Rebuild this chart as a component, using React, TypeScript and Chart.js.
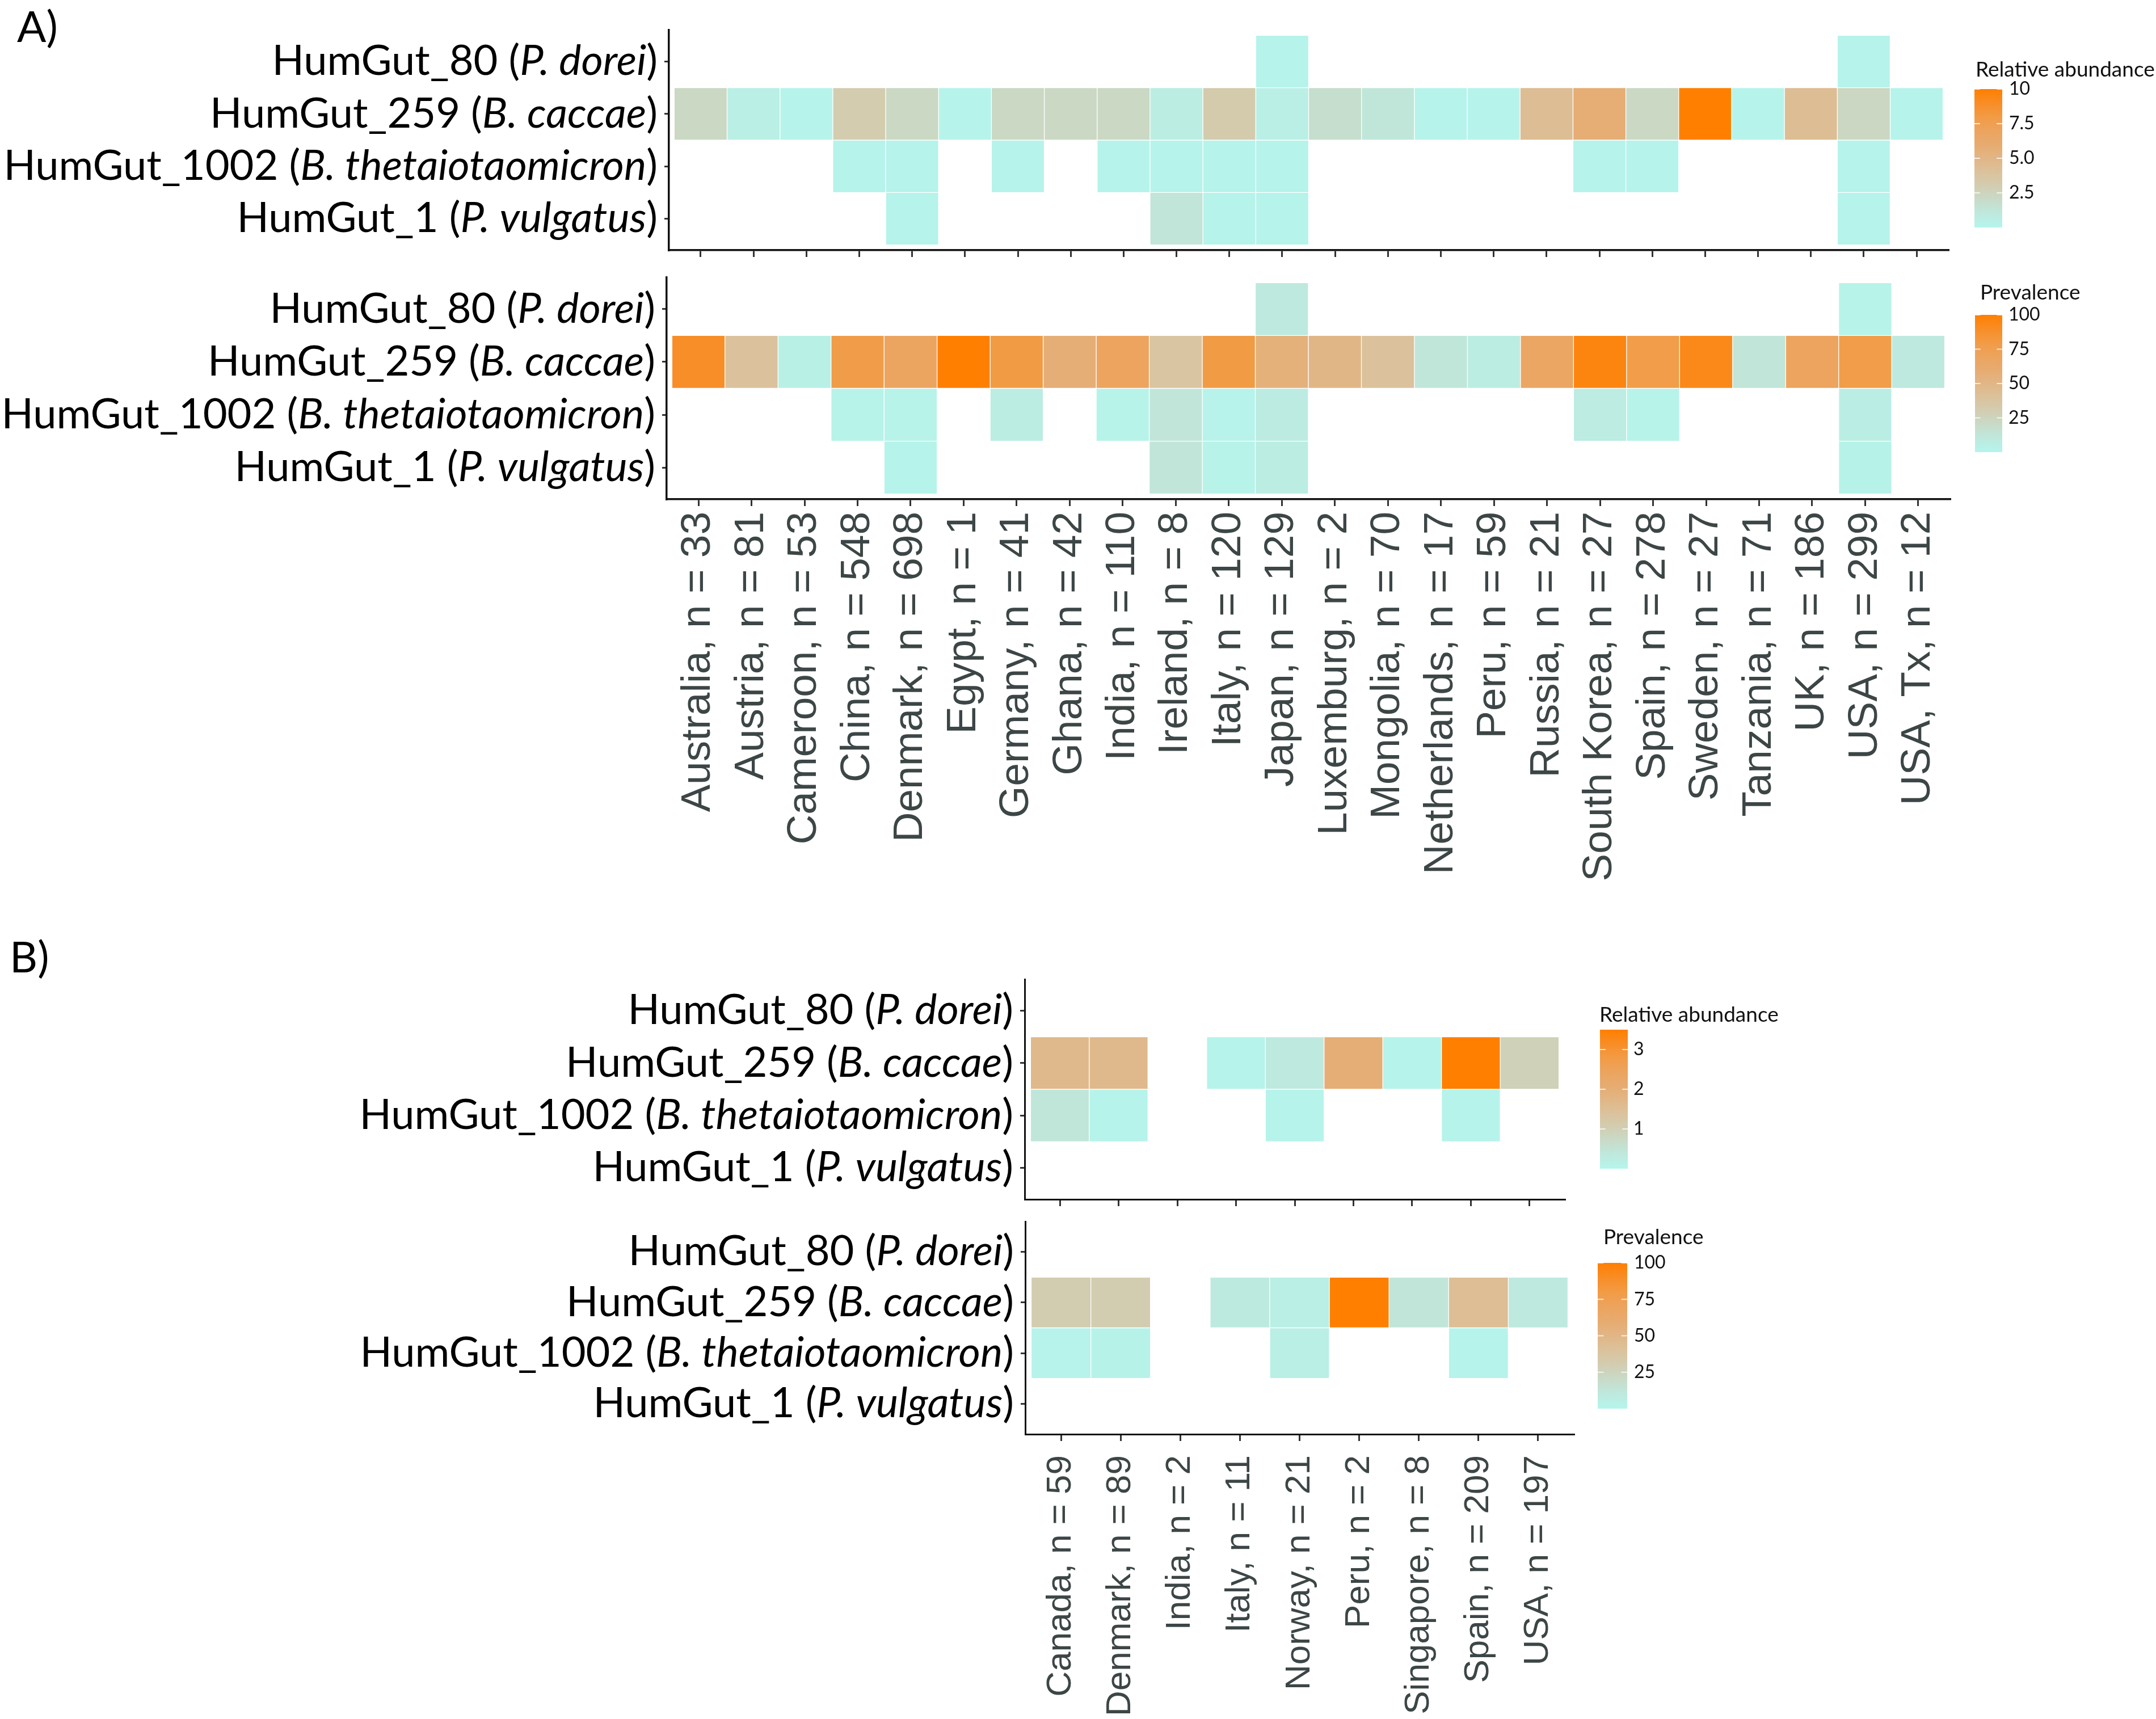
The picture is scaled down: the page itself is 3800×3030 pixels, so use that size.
import React, { useEffect, useRef } from "react";
import { Chart, registerables } from "chart.js";

Chart.register(...registerables);

// ---------------- data ----------------
const rowIds = ["HumGut_80", "HumGut_259", "HumGut_1002", "HumGut_1"];
const rowSpecies = ["P. dorei", "B. caccae", "B. thetaiotaomicron", "P. vulgatus"];

const countriesA = [
  "Australia, n = 33", "Austria, n = 81", "Cameroon, n = 53", "China, n = 548",
  "Denmark, n = 698", "Egypt, n = 1", "Germany, n = 41", "Ghana, n = 42",
  "India, n = 110", "Ireland, n = 8", "Italy, n = 120", "Japan, n = 129",
  "Luxemburg, n = 2", "Mongolia, n = 70", "Netherlands, n = 17", "Peru, n = 59",
  "Russia, n = 21", "South Korea, n = 27", "Spain, n = 278", "Sweden, n = 27",
  "Tanzania, n = 71", "UK, n = 186", "USA, n = 299", "USA, Tx, n = 12",
];

// Panel A – relative abundance
const abundA_HG80 = [null, null, null, null, null, null, null, null, null, null, null, 0.15, null, null, null, null, null, null, null, null, null, null, 0.15, null];
const abundA_HG259 = [2.2, 0.5, 0.1, 3.1, 2.2, 0.1, 2.2, 2.2, 2.2, 0.7, 3.2, 0.5, 1.8, 1.2, 0.15, 0.1, 4.4, 5.8, 2.2, 10, 0.1, 4.4, 2.3, 0.15];
const abundA_HG1002 = [null, null, null, 0.15, 0.15, null, 0.15, null, 0.15, 0.15, 0.15, 0.15, null, null, null, null, null, 0.15, 0.15, null, null, null, 0.15, null];
const abundA_HG1 = [null, null, null, null, 0.15, null, null, null, null, 1.3, 0.15, 0.15, null, null, null, null, null, null, null, null, null, null, 0.15, null];

// Panel A – prevalence
const prevA_HG80 = [null, null, null, null, null, null, null, null, null, null, null, 10, null, null, null, null, null, null, null, null, null, null, 2, null];
const prevA_HG259 = [89, 40, 4, 79, 69, 100, 80, 57, 70, 37.5, 80, 55, 50, 40, 12, 7, 67, 96, 78, 93, 13, 70, 78, 10];
const prevA_HG1002 = [null, null, null, 2, 2, null, 7, null, 2, 12.5, 1.7, 8, null, null, null, null, null, 7.4, 2, null, null, null, 6, null];
const prevA_HG1 = [null, null, null, null, 1.5, null, null, null, null, 12.5, 2, 7, null, null, null, null, null, null, null, null, null, null, 2.5, null];

const countriesB = [
  "Canada, n = 59", "Denmark, n = 89", "India, n = 2", "Italy, n = 11", "Norway, n = 21",
  "Peru, n = 2", "Singapore, n = 8", "Spain, n = 209", "USA, n = 197",
];

// Panel B – relative abundance
const abundB_HG80 = [null, null, null, null, null, null, null, null, null];
const abundB_HG259 = [1.65, 1.65, null, 0.05, 0.35, 2.0, 0.05, 3.5, 0.95];
const abundB_HG1002 = [0.42, 0.05, null, null, 0.05, null, null, 0.05, null];
const abundB_HG1 = [null, null, null, null, null, null, null, null, null];

// Panel B – prevalence
const prevB_HG80 = [null, null, null, null, null, null, null, null, null];
const prevB_HG259 = [30.5, 30.3, null, 9.1, 4.8, 100, 12.5, 43, 10];
const prevB_HG1002 = [1.7, 2.2, null, null, 4.8, null, null, 1.4, null];
const prevB_HG1 = [null, null, null, null, null, null, null, null, null];

// colour-bar ticks
const abundTicksA = [2.5, 5, 7.5, 10];
const abundTickLabelsA = ["2.5", "5.0", "7.5", "10"];
const abundMaxA = 10;
const prevTicks = [25, 50, 75, 100];
const prevTickLabels = ["25", "50", "75", "100"];
const prevMax = 100;
const abundTicksB = [1, 2, 3];
const abundTickLabelsB = ["1", "2", "3"];
const abundMaxB = 3.5;

// ---------------- styling ----------------
const PAGE_W = 3800;
const PAGE_H = 3030;
const LABEL_FONT = "Lato, 'Open Sans', sans-serif";
const XTICK_FONT = "'Liberation Sans', Arial, sans-serif";
const XTICK_COLOR = "#3d4646";
const ROW_LABEL_SIZE = 74;

const gradientStops: [number, string][] = [
  [0.0, "#b5f5ec"],
  [0.1, "#bee9de"],
  [0.2, "#c8dbc9"],
  [0.3, "#d2cdb1"],
  [0.4, "#dbc29c"],
  [0.5, "#e1b686"],
  [0.6, "#e7ab70"],
  [0.7, "#eca45e"],
  [0.8, "#f29b45"],
  [0.9, "#f88d25"],
  [1.0, "#ff7f00"],
];

function hexToRgb(h: string) {
  const n = parseInt(h.slice(1), 16);
  return [(n >> 16) & 255, (n >> 8) & 255, n & 255];
}

function colorFor(v: number, max: number) {
  const t = Math.max(0, Math.min(1, v / max));
  for (let i = 0; i < gradientStops.length - 1; i++) {
    const [t0, c0] = gradientStops[i];
    const [t1, c1] = gradientStops[i + 1];
    if (t >= t0 && t <= t1) {
      const f = (t - t0) / (t1 - t0);
      const a = hexToRgb(c0);
      const b = hexToRgb(c1);
      const r = a.map((x, k) => Math.round(x + (b[k] - x) * f));
      return `rgb(${r[0]},${r[1]},${r[2]})`;
    }
  }
  return gradientStops[gradientStops.length - 1][1];
}

type LegendSpec = {
  title: string;
  ticks: number[];
  tickLabels: string[];
  barLeft: number;
  barRight: number;
  barTop: number;
  barBottom: number;
  titleX: number;
  titleBaseline: number;
  labelX: number;
};

type PanelSpec = {
  top: number;
  height: number;
  plot: { left: number; right: number; top: number; bottom: number };
  categories: string[];
  rows: (number | null)[][];
  max: number;
  legend: LegendSpec;
  showXLabels: boolean;
  xFontSize: number;
  xPad: number;
  axisWidth: number;
  panelLabel?: { text: string; x: number; baseline: number; size: number };
};

function buildChart(canvas: HTMLCanvasElement, p: PanelSpec) {
  const nCat = p.categories.length;
  const datasets = p.rows.map((vals, k) => {
    const rowVal = 3 - k;
    const data: any[] = [];
    const colors: string[] = [];
    vals.forEach((v, i) => {
      if (v !== null && v !== undefined) {
        data.push({ x: i, y: [rowVal - 0.5, rowVal + 0.5] });
        colors.push(colorFor(v, p.max));
      }
    });
    return {
      label: rowIds[k],
      data,
      backgroundColor: colors,
      borderColor: "#ffffff",
      borderWidth: 1,
      borderSkipped: false,
      grouped: false,
      barPercentage: 1,
      categoryPercentage: 1,
    };
  });

  const overlay = {
    id: "overlay",
    afterDraw(chart: any) {
      const ctx = chart.ctx as CanvasRenderingContext2D;
      const yScale = chart.scales.y;
      const left = chart.chartArea.left;
      ctx.save();
      // row labels with italic species names
      ctx.fillStyle = "#000000";
      ctx.textBaseline = "middle";
      ctx.textAlign = "left";
      const fs = ROW_LABEL_SIZE;
      rowIds.forEach((id, k) => {
        const py = yScale.getPixelForValue(3 - k);
        const parts = [
          { t: id + " (", it: false },
          { t: rowSpecies[k], it: true },
          { t: ")", it: false },
        ];
        const widths = parts.map((q) => {
          ctx.font = `${q.it ? "italic " : ""}${fs}px ${LABEL_FONT}`;
          return ctx.measureText(q.t).width;
        });
        const total = widths.reduce((a, b) => a + b, 0);
        let x = left - 20 - total;
        parts.forEach((q, i) => {
          ctx.font = `${q.it ? "italic " : ""}${fs}px ${LABEL_FONT}`;
          ctx.fillText(q.t, x, py);
          x += widths[i];
        });
      });

      // colour bar legend
      const L = p.legend;
      const off = p.top;
      const yT = L.barTop - off;
      const yB = L.barBottom - off;
      const grad = ctx.createLinearGradient(0, yB, 0, yT);
      gradientStops.forEach(([t, c]) => grad.addColorStop(t, c));
      ctx.fillStyle = grad;
      ctx.fillRect(L.barLeft, yT, L.barRight - L.barLeft, yB - yT);
      const tl = (L.barRight - L.barLeft) / 5;
      L.ticks.forEach((v, i) => {
        const py = yB - (v / p.max) * (yB - yT);
        ctx.strokeStyle = "rgba(255,255,255,0.75)";
        ctx.lineWidth = 2;
        ctx.beginPath();
        ctx.moveTo(L.barLeft, py);
        ctx.lineTo(L.barLeft + tl, py);
        ctx.moveTo(L.barRight - tl, py);
        ctx.lineTo(L.barRight, py);
        ctx.stroke();
        ctx.fillStyle = "#111111";
        ctx.font = `32px ${LABEL_FONT}`;
        ctx.textAlign = "left";
        ctx.textBaseline = "middle";
        ctx.fillText(L.tickLabels[i], L.labelX, py);
      });
      ctx.fillStyle = "#111111";
      ctx.font = `37px ${LABEL_FONT}`;
      ctx.textAlign = "left";
      ctx.textBaseline = "alphabetic";
      ctx.fillText(L.title, L.titleX, L.titleBaseline - off);

      if (p.panelLabel) {
        ctx.font = `${p.panelLabel.size}px ${LABEL_FONT}`;
        ctx.fillStyle = "#000000";
        ctx.fillText(p.panelLabel.text, p.panelLabel.x, p.panelLabel.baseline - off);
      }
      ctx.restore();
    },
  };

  const plotBottomRel = p.plot.bottom - p.top;

  return new Chart(canvas, {
    type: "bar",
    data: { datasets } as any,
    options: {
      animation: false,
      responsive: false,
      devicePixelRatio: 1,
      events: [],
      layout: {
        autoPadding: false,
        padding: { left: 0, right: PAGE_W - p.plot.right, top: p.plot.top - p.top, bottom: 0 },
      },
      plugins: {
        legend: { display: false },
        tooltip: { enabled: false },
        title: { display: false },
      },
      scales: {
        x: {
          type: "linear",
          min: -0.6,
          max: nCat - 1 + 0.6,
          offset: false,
          afterBuildTicks: (s: any) => {
            s.ticks = p.categories.map((_, i) => ({ value: i }));
          },
          afterFit: (s: any) => {
            s.height = p.height - plotBottomRel;
          },
          ticks: {
            display: p.showXLabels,
            autoSkip: false,
            minRotation: 90,
            maxRotation: 90,
            padding: p.xPad,
            color: XTICK_COLOR,
            font: { family: XTICK_FONT, size: p.xFontSize },
            callback: (v: any) => p.categories[v as number] ?? "",
          },
          grid: {
            display: true,
            drawOnChartArea: false,
            drawTicks: true,
            tickLength: 12,
            color: "#333333",
            lineWidth: 3,
            offset: false,
          },
          border: { display: true, color: "#111111", width: p.axisWidth },
        },
        y: {
          type: "linear",
          min: -0.6,
          max: 3.6,
          afterBuildTicks: (s: any) => {
            s.ticks = [0, 1, 2, 3].map((v) => ({ value: v }));
          },
          afterFit: (s: any) => {
            s.width = p.plot.left;
          },
          ticks: { display: false },
          grid: {
            display: true,
            drawOnChartArea: false,
            drawTicks: true,
            tickLength: 8,
            color: "#333333",
            lineWidth: 3,
            offset: false,
          },
          border: { display: true, color: "#111111", width: p.axisWidth },
        },
      },
    } as any,
    plugins: [overlay],
  });
}

function HeatPanel({ spec }: { spec: PanelSpec }) {
  const ref = useRef<HTMLCanvasElement>(null);
  useEffect(() => {
    const chart = buildChart(ref.current as HTMLCanvasElement, spec);
    return () => chart.destroy();
  }, []);
  return (
    <canvas
      ref={ref}
      width={PAGE_W}
      height={spec.height}
      style={{ position: "absolute", left: 0, top: spec.top, width: PAGE_W, height: spec.height, display: "block" }}
    />
  );
}

const panels: PanelSpec[] = [
  {
    top: 0,
    height: 470,
    plot: { left: 1179, right: 3434, top: 53, bottom: 441 },
    categories: countriesA,
    rows: [abundA_HG80, abundA_HG259, abundA_HG1002, abundA_HG1],
    max: abundMaxA,
    legend: {
      title: "Relative abundance",
      ticks: abundTicksA,
      tickLabels: abundTickLabelsA,
      barLeft: 3480, barRight: 3529, barTop: 157, barBottom: 401,
      titleX: 3482, titleBaseline: 135, labelX: 3541,
    },
    showXLabels: false,
    xFontSize: 73,
    xPad: 10,
    axisWidth: 3.5,
    panelLabel: { text: "A)", x: 30, baseline: 74, size: 76 },
  },
  {
    top: 470,
    height: 1250,
    plot: { left: 1175, right: 3437, top: 489, bottom: 880 },
    categories: countriesA,
    rows: [prevA_HG80, prevA_HG259, prevA_HG1002, prevA_HG1],
    max: prevMax,
    legend: {
      title: "Prevalence",
      ticks: prevTicks,
      tickLabels: prevTickLabels,
      barLeft: 3481, barRight: 3529, barTop: 555, barBottom: 797,
      titleX: 3490, titleBaseline: 528, labelX: 3540,
    },
    showXLabels: true,
    xFontSize: 73,
    xPad: 10,
    axisWidth: 3.5,
  },
  {
    top: 1620,
    height: 520,
    plot: { left: 1806, right: 2758, top: 1726, bottom: 2114 },
    categories: countriesB,
    rows: [abundB_HG80, abundB_HG259, abundB_HG1002, abundB_HG1],
    max: abundMaxB,
    legend: {
      title: "Relative abundance",
      ticks: abundTicksB,
      tickLabels: abundTickLabelsB,
      barLeft: 2820, barRight: 2869, barTop: 1815, barBottom: 2060,
      titleX: 2819, titleBaseline: 1801, labelX: 2879,
    },
    showXLabels: false,
    xFontSize: 62,
    xPad: 25,
    axisWidth: 3,
    panelLabel: { text: "B)", x: 17, baseline: 1714, size: 76 },
  },
  {
    top: 2140,
    height: 890,
    plot: { left: 1807, right: 2774, top: 2153, bottom: 2528 },
    categories: countriesB,
    rows: [prevB_HG80, prevB_HG259, prevB_HG1002, prevB_HG1],
    max: prevMax,
    legend: {
      title: "Prevalence",
      ticks: prevTicks,
      tickLabels: prevTickLabels,
      barLeft: 2816, barRight: 2868, barTop: 2226, barBottom: 2483,
      titleX: 2826, titleBaseline: 2193, labelX: 2880,
    },
    showXLabels: true,
    xFontSize: 62,
    xPad: 25,
    axisWidth: 3,
  },
];

export default function App() {
  return (
    <div
      style={{
        position: "absolute",
        left: 0,
        top: 0,
        width: PAGE_W,
        height: PAGE_H,
        background: "#ffffff",
        overflow: "hidden",
      }}
    >
      {panels.map((s, i) => (
        <HeatPanel key={i} spec={s} />
      ))}
    </div>
  );
}
